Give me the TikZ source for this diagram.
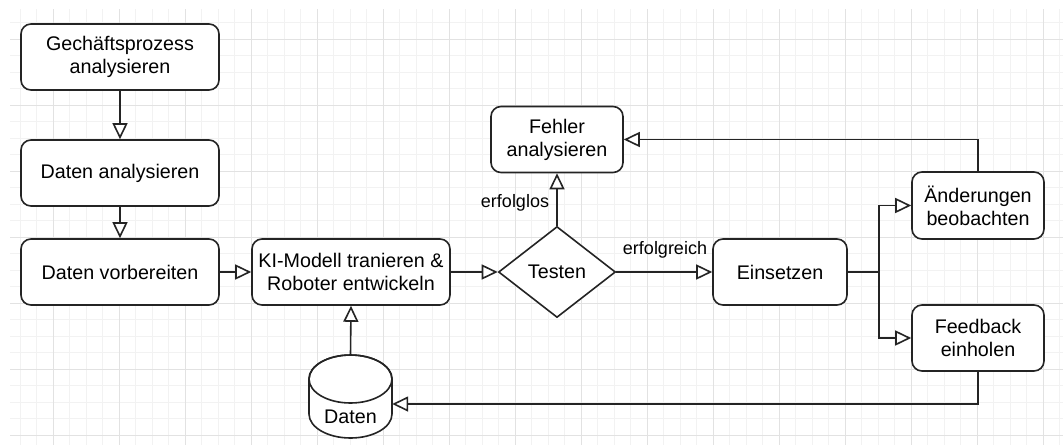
\documentclass[tikz,border=0pt]{standalone}
\usepackage{fontspec}
\setmainfont{Liberation Sans}
\usetikzlibrary{arrows.meta,shapes.geometric}

\definecolor{linec}{RGB}{36,36,36}
\definecolor{gridminor}{RGB}{242,242,242}
\definecolor{gridmajor}{RGB}{226,226,226}

\tikzset{
  box/.style={draw=linec, line width=1.6pt, rounded corners=10pt, fill=white,
    align=center, inner sep=0pt, font=\fontsize{19.7}{23}\selectfont},
  decision/.style={draw=linec, line width=1.6pt, diamond, fill=white,
    inner sep=0pt, font=\fontsize{19.7}{23}\selectfont},
  edgelabel/.style={inner sep=0pt, font=\fontsize{18}{21}\selectfont},
  arr/.style={draw=linec, line width=1.6pt,
    -{Triangle[open, length=16pt, width=15pt, fill=white]}},
  plain/.style={draw=linec, line width=1.6pt},
}

\begin{document}
\begin{tikzpicture}[x=1pt, y=-1pt]
\useasboundingbox (0,0) rectangle (1063,445);
\fill[white] (0,0) rectangle (1063,445);

% background grid
\begin{scope}
  \clip (10,9) rectangle (1063,445);
  \foreach \k in {-2,...,61} {
    \pgfmathsetmacro\gx{53+16.5*\k}
    \draw[gridminor, line width=1pt] (\gx,9) -- (\gx,445);
  }
  \foreach \k in {-2,...,25} {
    \pgfmathsetmacro\gy{39+16.5*\k}
    \draw[gridminor, line width=1pt] (10,\gy) -- (1063,\gy);
  }
  \foreach \k in {0,...,15} {
    \pgfmathsetmacro\gx{53+66*\k}
    \draw[gridmajor, line width=1pt] (\gx,9) -- (\gx,445);
  }
  \foreach \k in {0,...,6} {
    \pgfmathsetmacro\gy{39+66*\k}
    \draw[gridmajor, line width=1pt] (10,\gy) -- (1063,\gy);
  }
\end{scope}

% process steps
\node[box, minimum width=198pt, minimum height=66pt] (gp) at (120,57) {Gechäftsprozess\\analysieren};
\node[box, minimum width=198pt, minimum height=66pt] (da) at (120,173) {Daten analysieren};
\node[box, minimum width=198pt, minimum height=66pt] (dv) at (120,272) {Daten vorbereiten};
\node[box, minimum width=198pt, minimum height=66pt] (ki) at (351,272) {KI-Modell tranieren \&\\Roboter entwickeln};
\node[decision, minimum width=117pt, minimum height=91pt] (test) at (557,272) {Testen};
\node[box, minimum width=132pt, minimum height=66pt] (fa) at (557,139.5) {Fehler\\analysieren};
\node[box, minimum width=134pt, minimum height=66pt] (ein) at (780,272) {Einsetzen};
\node[box, minimum width=132pt, minimum height=67pt] (aen) at (978,205.5) {Änderungen\\beobachten};
\node[box, minimum width=132pt, minimum height=66pt] (fb) at (978,338) {Feedback\\einholen};

% data store (cylinder)
\node[minimum width=83pt, minimum height=83pt, inner sep=0pt] (db) at (350.5,396.5) {};
\draw[plain, fill=white] (309,379) -- (309,414)
  arc[start angle=180, end angle=360, x radius=41.5pt, y radius=24pt]
  -- (392,379) arc[start angle=0, end angle=180, x radius=41.5pt, y radius=24pt] -- cycle;
\draw[plain] (350.5,379) ellipse[x radius=41.5pt, y radius=24pt];
\node[font=\fontsize{19.7}{23}\selectfont, inner sep=0pt] (dbtext) at (350.5,417) {Daten};

% connectors
\draw[arr] (gp) -- (da);
\draw[arr] (da) -- (dv);
\draw[arr] (dv) -- (ki);
\draw[arr] (ki) -- (test.west);
\draw[arr] (db.north) -- (ki.south);
\draw[arr] (test.north) -- (fa.south);
\draw[arr] (test.east) -- (ein.west);

\coordinate (fork) at (879,272);
\draw[plain] (ein.east) -- (fork);
\draw[arr] (fork) |- (aen.west);
\draw[arr] (fork) |- (fb.west);

\draw[arr] (aen.north) |- (fa.east);

\coordinate (fbturn) at (978,404);
\draw[arr] (fb.south) -- (fbturn) -- (fbturn -| db.east);

% edge labels
\node[edgelabel] (lfail) at (515,203) {erfolglos};
\node[edgelabel] (lok) at (665,250) {erfolgreich};
\end{tikzpicture}
\end{document}
